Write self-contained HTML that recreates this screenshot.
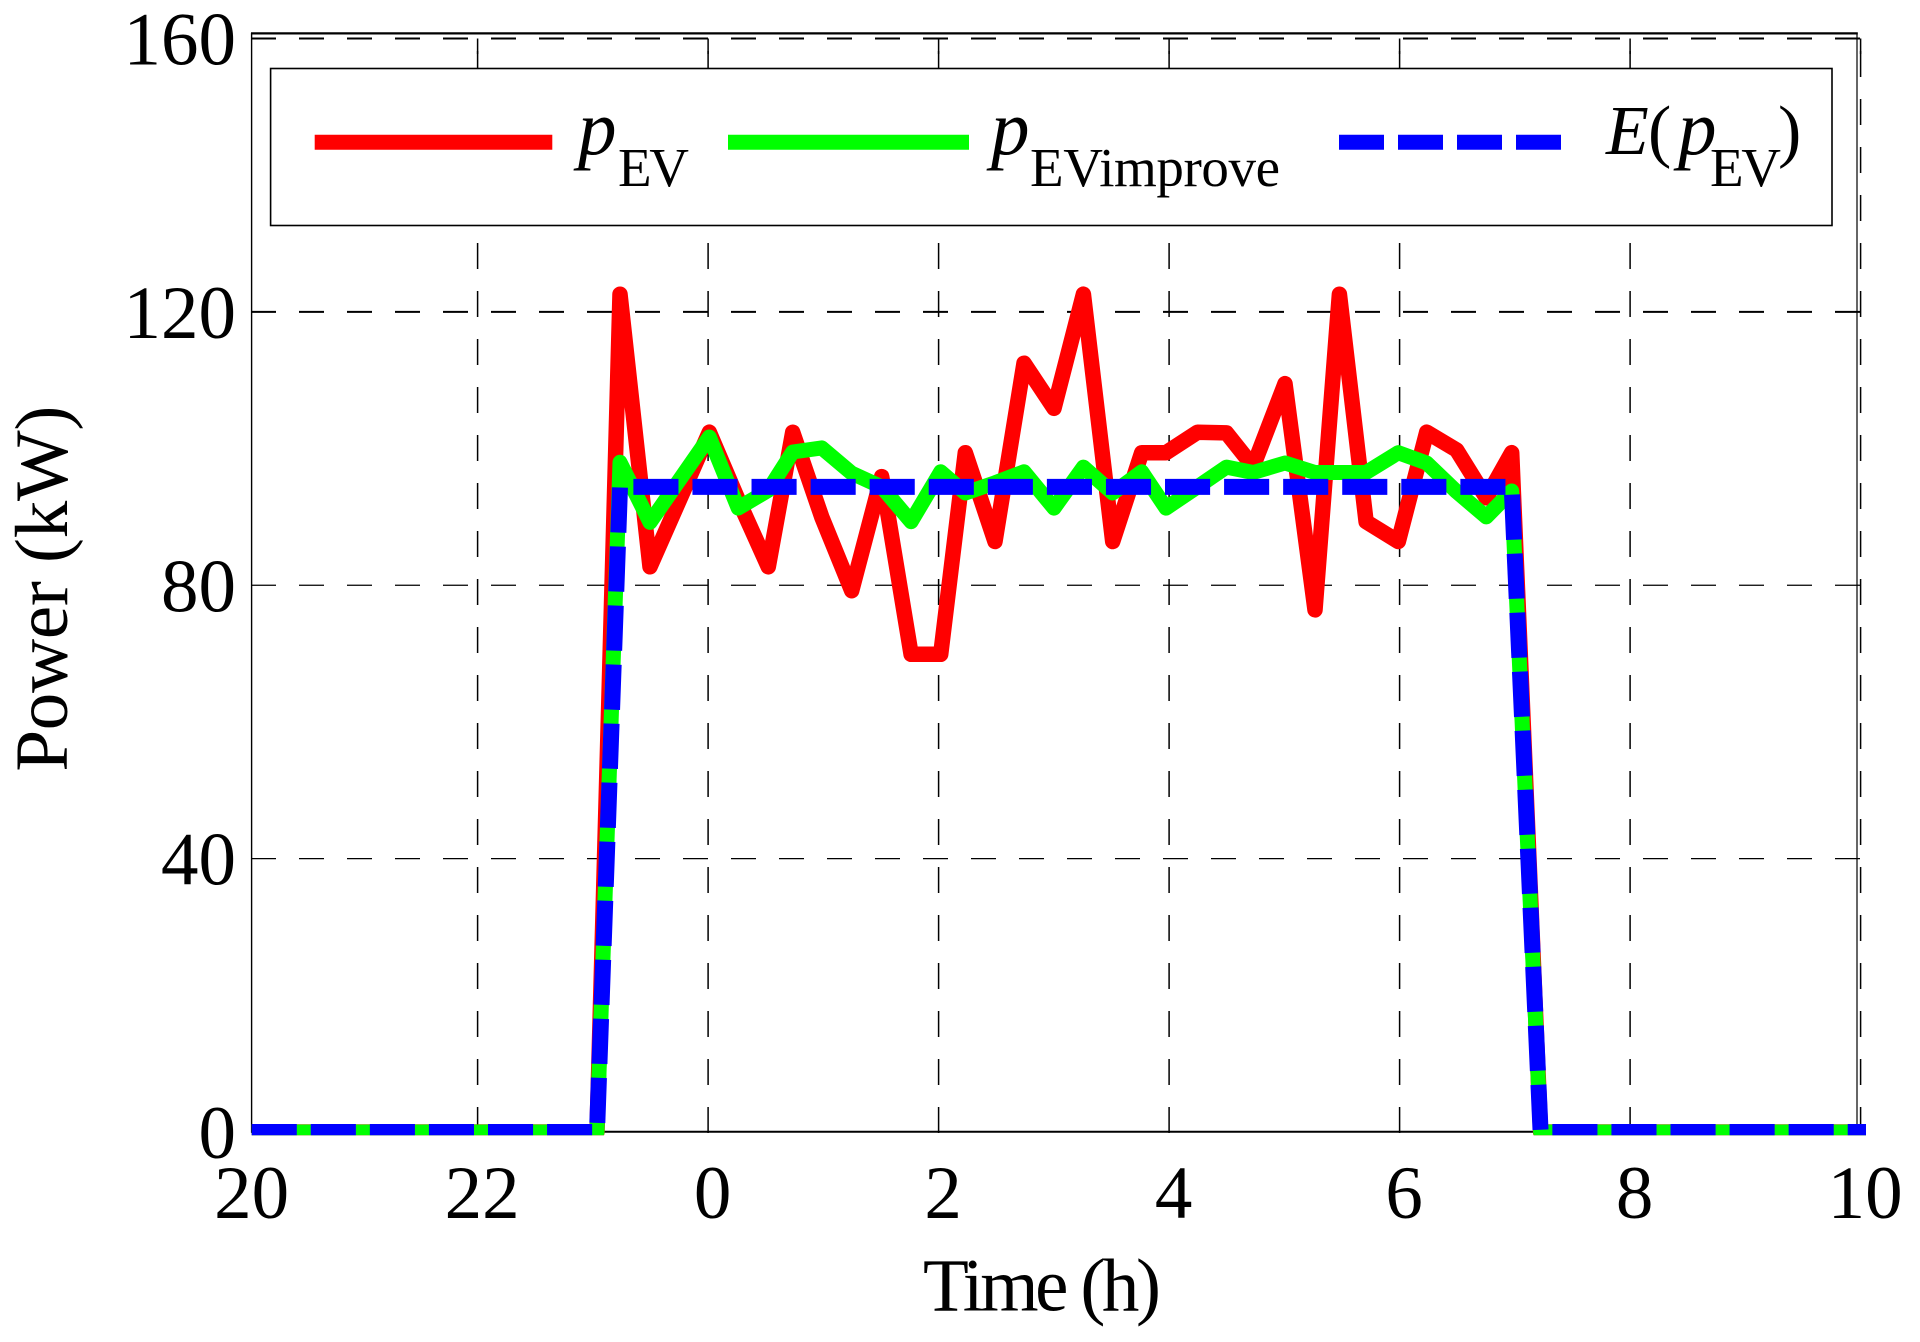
<!DOCTYPE html>
<html>
<head>
<meta charset="utf-8">
<title>EV charging power chart</title>
<style>
html,body{margin:0;padding:0;background:#fff;}
svg{display:block;}
text{font-family:"Liberation Serif",serif;fill:#000;}
</style>
</head>
<body>
<svg id="chart" xmlns="http://www.w3.org/2000/svg" width="1920" height="1342" viewBox="0 0 1920 1342">
  <defs>
    <clipPath id="plot-clip"><rect x="251" y="30" width="1620" height="1105.3"/></clipPath>
  </defs>
  <rect x="0" y="0" width="1920" height="1342" fill="#fff"/>
  <g id="grid"></g>
  <g stroke="#000" fill="none">
    <line x1="251" y1="33.4" x2="1857.8" y2="33.4" stroke-width="2.2"/>
    <line x1="251.6" y1="33" x2="251.6" y2="1132.8" stroke-width="1.4"/>
    <line x1="251" y1="1131.8" x2="1857.8" y2="1131.8" stroke-width="2"/>
    <line x1="1857" y1="33" x2="1857" y2="1132.8" stroke-width="1.2"/>
  </g>
  <g id="series" clip-path="url(#plot-clip)"></g>
  <g id="tick-labels" font-size="75"></g>

  <text x="923" y="1310.7" font-size="75" textLength="238" lengthAdjust="spacing">Time (h)</text>
  <text transform="translate(67,771.6) rotate(-90)" font-size="75" textLength="366" lengthAdjust="spacing">Power (kW)</text>

  <g>
    <rect x="270.6" y="68.5" width="1561.4" height="157" fill="#fff" stroke="#000" stroke-width="1.6"/>
    <line x1="314.7" y1="142.3" x2="552.3" y2="142.3" stroke="#ff0000" stroke-width="15"/>
    <text x="578" y="154" font-size="77" font-style="italic">p</text>
    <text x="618" y="186" font-size="55" textLength="71" lengthAdjust="spacing">EV</text>
    <line x1="728" y1="142.3" x2="969" y2="142.3" stroke="#00ff00" stroke-width="15"/>
    <text x="991" y="154" font-size="77" font-style="italic">p</text>
    <text x="1030" y="186" font-size="55" textLength="250" lengthAdjust="spacing">EVimprove</text>
    <line x1="1339" y1="142.3" x2="1561.3" y2="142.3" stroke="#0000ff" stroke-width="15" stroke-dasharray="45 14"/>
    <text x="1606" y="154" font-size="70" font-style="italic">E</text>
    <text x="1648" y="154" font-size="70">(</text>
    <text x="1678" y="154" font-size="77" font-style="italic">p</text>
    <text x="1710" y="186" font-size="55" textLength="71" lengthAdjust="spacing">EV</text>
    <text x="1778" y="154" font-size="70">)</text>
  </g>
</svg>
<script>
// Elapsed hours since 20:00, and power in kW.
var sampleHours = [0.04,3.036,3.236,3.496,4.010,4.261,4.522,4.734,4.986,5.246,5.506,5.761,6.018,6.232,6.489,6.741,7.001,7.256,7.511,7.762,7.973,8.246,8.498,8.730,9.006,9.266,9.478,9.709,9.989,10.235,10.495,10.752,10.973,11.223,14.047];
var pEv = [0,0,122.6,82.7,102.4,92.5,82.7,102.4,90.0,79.2,95.9,69.9,69.9,99.4,86.4,112.5,105.9,122.6,86.4,99.4,99.4,102.4,102.3,97.4,109.5,76.4,122.6,89.3,86.4,102.4,99.8,92.8,99.4,0,0];
var pEvImprove = [0,0,98.0,89.2,101.7,91.3,93.9,99.5,100.1,96.4,94.4,89.3,96.6,93.5,95.0,96.6,91.3,97.3,93.5,96.6,91.3,94.4,97.3,96.5,97.9,96.5,96.5,96.5,99.4,97.9,93.7,90.0,93.8,0,0];
var expectedHours = [0.04,3.036,3.236,10.973,11.223,14.047];
var expectedPower = [0,0,94.4,94.4,0,0];
var xTicks = [2,4,6,8,10,12,14];
var xLabelHours = [0,2,4,6,8,10,12,14];
var xTickLabels = ["20","22","0","2","4","6","8","10"];
var yTicks = [40,80,120,160];
var yLabelValues = [0,40,80,120,160];
var yTickLabels = ["0","40","80","120","160"];

var NS = "http://www.w3.org/2000/svg";
function xScale(h){ return 247.1 + 115.25 * h; }
function yScale(v){ return 1132 - 6.834 * v; }
function pointsOf(hours, values){
  var out = [];
  for (var i = 0; i < hours.length; i++) {
    out.push(xScale(hours[i]).toFixed(1) + "," + yScale(values[i]).toFixed(1));
  }
  return out.join(" ");
}

var grid = document.getElementById("grid");
yTicks.forEach(function(v){
  var l = document.createElementNS(NS, "line");
  
  
  l.setAttribute("x1", 251);
  l.setAttribute("x2", 1860.8);
  l.setAttribute("y1", yScale(v));
  l.setAttribute("y2", yScale(v));
  l.setAttribute("stroke", "#000");
  l.setAttribute("stroke-width", v >= 120 ? 2 : 1.3);
  l.setAttribute("stroke-dasharray", "25 23");
  grid.appendChild(l);
});
xTicks.forEach(function(h){
  var l = document.createElementNS(NS, "line");
  
  
  l.setAttribute("x1", xScale(h));
  l.setAttribute("x2", xScale(h));
  l.setAttribute("y1", 1133);
  l.setAttribute("y2", 38.5);
  l.setAttribute("stroke", "#000");
  l.setAttribute("stroke-width", 1.5);
  l.setAttribute("stroke-dasharray", "26 22");
  grid.appendChild(l);
  var s = document.createElementNS(NS, "line");
  
  
  s.setAttribute("x1", xScale(h));
  s.setAttribute("x2", xScale(h));
  s.setAttribute("y1", 38.5);
  s.setAttribute("y2", 54);
  s.setAttribute("stroke", "#000");
  s.setAttribute("stroke-width", 1.5);
  grid.appendChild(s);
});

var seriesGroup = document.getElementById("series");
var red = document.createElementNS(NS, "polyline");


red.setAttribute("points", pointsOf(sampleHours, pEv));
red.setAttribute("fill", "none");
red.setAttribute("stroke", "#ff0000");
red.setAttribute("stroke-width", 15.5);
red.setAttribute("stroke-linejoin", "round");
seriesGroup.appendChild(red);

var green = document.createElementNS(NS, "polyline");


green.setAttribute("points", pointsOf(sampleHours, pEvImprove));
green.setAttribute("fill", "none");
green.setAttribute("stroke", "#00ff00");
green.setAttribute("stroke-width", 15);
green.setAttribute("stroke-linejoin", "round");
seriesGroup.appendChild(green);

var blue = document.createElementNS(NS, "polyline");


blue.setAttribute("points", pointsOf(expectedHours, expectedPower));
blue.setAttribute("fill", "none");
blue.setAttribute("stroke", "#0000ff");
blue.setAttribute("stroke-width", 16);
blue.setAttribute("stroke-dasharray", "45.1 13.97");
blue.setAttribute("stroke-linejoin", "miter");
seriesGroup.appendChild(blue);

var labels = document.getElementById("tick-labels");
xLabelHours.forEach(function(h, i){
  var t = document.createElementNS(NS, "text");
  
  
  t.setAttribute("x", xScale(h) + 4.5);
  t.setAttribute("y", 1218);
  t.setAttribute("text-anchor", "middle");
  t.textContent = xTickLabels[i];
  labels.appendChild(t);
});
yLabelValues.forEach(function(v, i){
  var t = document.createElementNS(NS, "text");
  
  
  t.setAttribute("x", 236);
  t.setAttribute("y", yScale(v) + 26);
  t.setAttribute("text-anchor", "end");
  t.textContent = yTickLabels[i];
  labels.appendChild(t);
});
</script>
</body>
</html>
